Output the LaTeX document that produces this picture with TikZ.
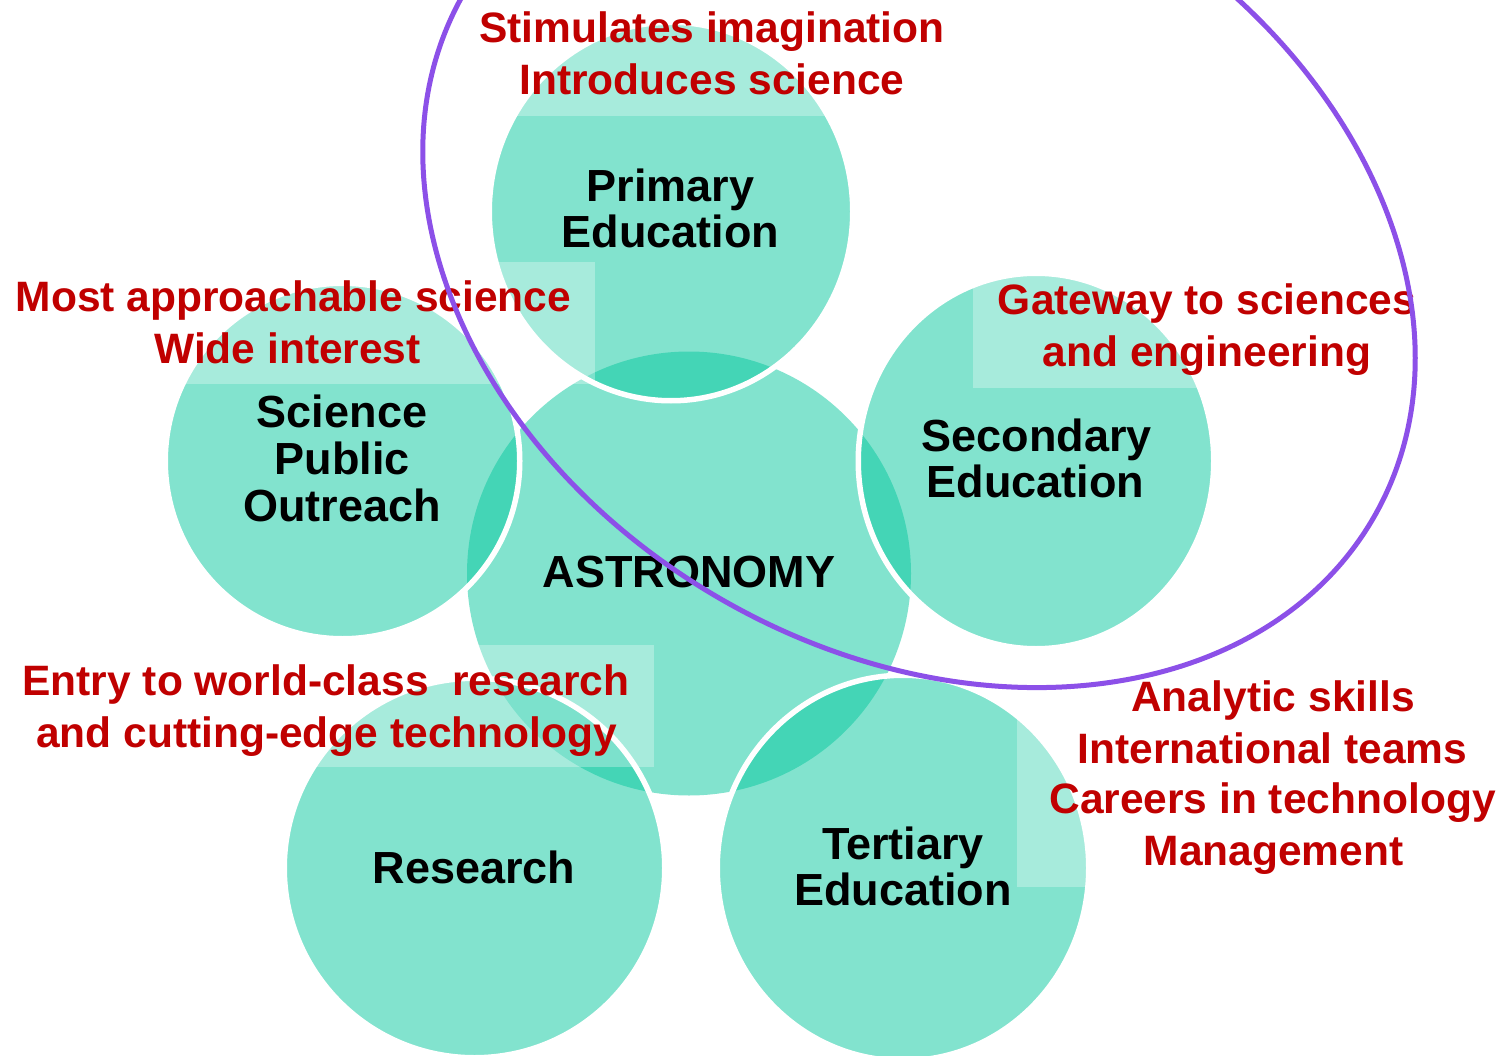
\documentclass[tikz,border=0pt]{standalone}
\usepackage{fontspec}
\setmainfont{Liberation Sans}
\definecolor{tealbase}{RGB}{7,201,159}
\definecolor{redtxt}{RGB}{192,0,0}
\definecolor{ringpurple}{RGB}{140,80,232}
\begin{document}
\begin{tikzpicture}[x=1pt,y=-1pt,
  bubble/.style={fill=tealbase, fill opacity=0.5},
  bubbleedge/.style={draw=white, line width=5.5pt},
  shade/.style={fill=white, fill opacity=0.3},
  redlab/.style={text=redtxt, font=\fontsize{42.5}{50}\selectfont\bfseries, inner sep=0pt, anchor=base},
  blacklab/.style={text=black, font=\fontsize{45}{46}\selectfont\bfseries, inner sep=0pt, anchor=base},
  ring/.style={draw=ringpurple, line width=5pt}
]
\useasboundingbox (0,0) rectangle (1509,1056);
\fill[white] (0,0) rectangle (1509,1056);
% central circle
\fill[bubble] (689,573.5) circle [radius=222pt];
% outer circles
\filldraw[bubble, bubbleedge] (671,211.5) ellipse [x radius=181.75pt, y radius=189.25pt];
\filldraw[bubble, bubbleedge] (342.5,461) ellipse [x radius=177.25pt, y radius=177.75pt];
\filldraw[bubble, bubbleedge] (1036,461) ellipse [x radius=177.75pt, y radius=187.75pt];
\filldraw[bubble, bubbleedge] (474.5,868) ellipse [x radius=190.25pt, y radius=189.75pt];
\filldraw[bubble, bubbleedge] (903,868) ellipse [x radius=185.75pt, y radius=192.75pt];
% light boxes behind the red notes
\fill[shade] (470,0) rectangle (955,116);
\fill[shade] (5,262) rectangle (595,384);
\fill[shade] (973,266) rectangle (1440,388);
\fill[shade] (10,645) rectangle (654,767);
\fill[shade] (1017,670) rectangle (1500,887);
% circle labels
\node[blacklab] (astro) at (689,587) {ASTRONOMY};
\node[blacklab] (prim1) at (670.5,202) {Primary};
\node[blacklab] (prim2) at (670.5,248) {Education};
\node[blacklab] (spo1) at (342,427) {Science};
\node[blacklab] (spo2) at (342,474) {Public};
\node[blacklab] (spo3) at (342,521.5) {Outreach};
\node[blacklab] (sec1) at (1036.5,451.5) {Secondary};
\node[blacklab] (sec2) at (1035.5,497) {Education};
\node[blacklab] (res) at (474,883) {Research};
\node[blacklab] (ter1) at (903,859) {Tertiary};
\node[blacklab] (ter2) at (903,905) {Education};
% red notes
\node[redlab] (n1a) at (712,42.7) {Stimulates imagination};
\node[redlab] (n1b) at (712,94.3) {Introduces science};
\node[redlab] (n2a) at (293.5,311.7) {Most approachable science};
\node[redlab] (n2b) at (287.5,363.3) {Wide interest};
\node[redlab] (n3a) at (1207,315) {Gateway to sciences};
\node[redlab] (n3b) at (1207,366.7) {and engineering};
\node[redlab] (n4a) at (326,695) {Entry to world-class\ \ research};
\node[redlab] (n4b) at (326.5,747.7) {and cutting-edge technology};
\node[redlab] (n5a) at (1273,711.7) {Analytic skills};
\node[redlab] (n5b) at (1272.5,763.3) {International teams};
\node[redlab] (n5c) at (1272.5,813.3) {Careers in technology};
\node[redlab] (n5d) at (1273.5,865) {Management};
% purple ring
\draw[ring, rotate around={-30:(919,255)}] (919,255) ellipse [x radius=525pt, y radius=397pt];
\end{tikzpicture}
\end{document}
